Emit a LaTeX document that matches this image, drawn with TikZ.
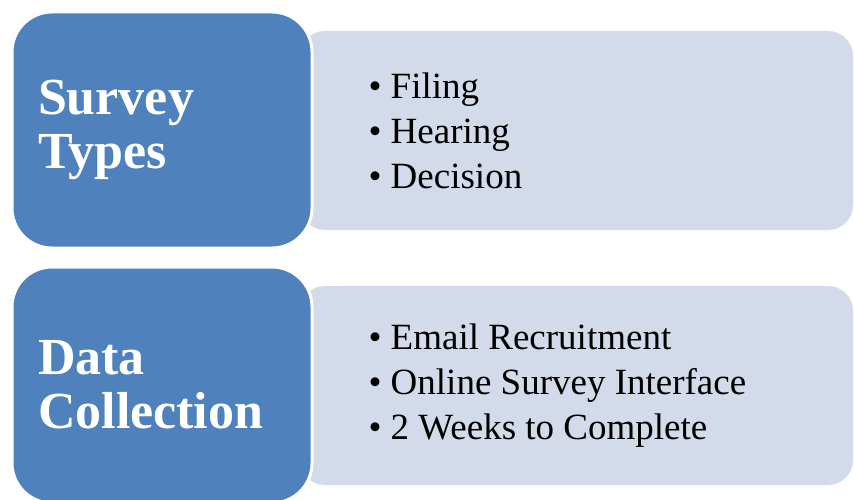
\documentclass[tikz,border=0pt]{standalone}
\usepackage{fontspec}
\setmainfont{Liberation Serif}
\definecolor{headblue}{HTML}{4F81BD}
\definecolor{listgray}{HTML}{D3DAEA}
\begin{document}
\begin{tikzpicture}[x=1pt,y=1pt,
  head/.style={draw=white,line width=3pt,fill=headblue,rounded corners=40pt,
    minimum width=300pt,minimum height=236pt,text width=248pt,align=left,
    text=white,font=\fontsize{52}{54}\selectfont\bfseries},
  items/.style={fill=listgray,draw=listgray!90!black!40,rounded corners=25pt,
    minimum width=553pt,minimum height=199pt},
  itemtext/.style={anchor=west,align=left,font=\fontsize{37}{45}\selectfont}]
\useasboundingbox (0,0) rectangle (854,-500);
% first row
\node [items] (stbox) at (576.5,-130.5) {};
\node [head] (st) at (162,-130) {Survey\\Types};
\node [itemtext] (stlist) at (365,-130.5) {\textbullet~Filing\\\textbullet~Hearing\\\textbullet~Decision};
% second row
\node [items] (dcbox) at (576.5,-385.5) {};
\node [head] (dc) at (162,-385) {Data\\Collection};
\node [itemtext] (dclist) at (365,-385.5) {\textbullet~Email Recruitment\\\textbullet~Online Survey Interface\\\textbullet~2 Weeks to Complete};
\end{tikzpicture}
\end{document}
